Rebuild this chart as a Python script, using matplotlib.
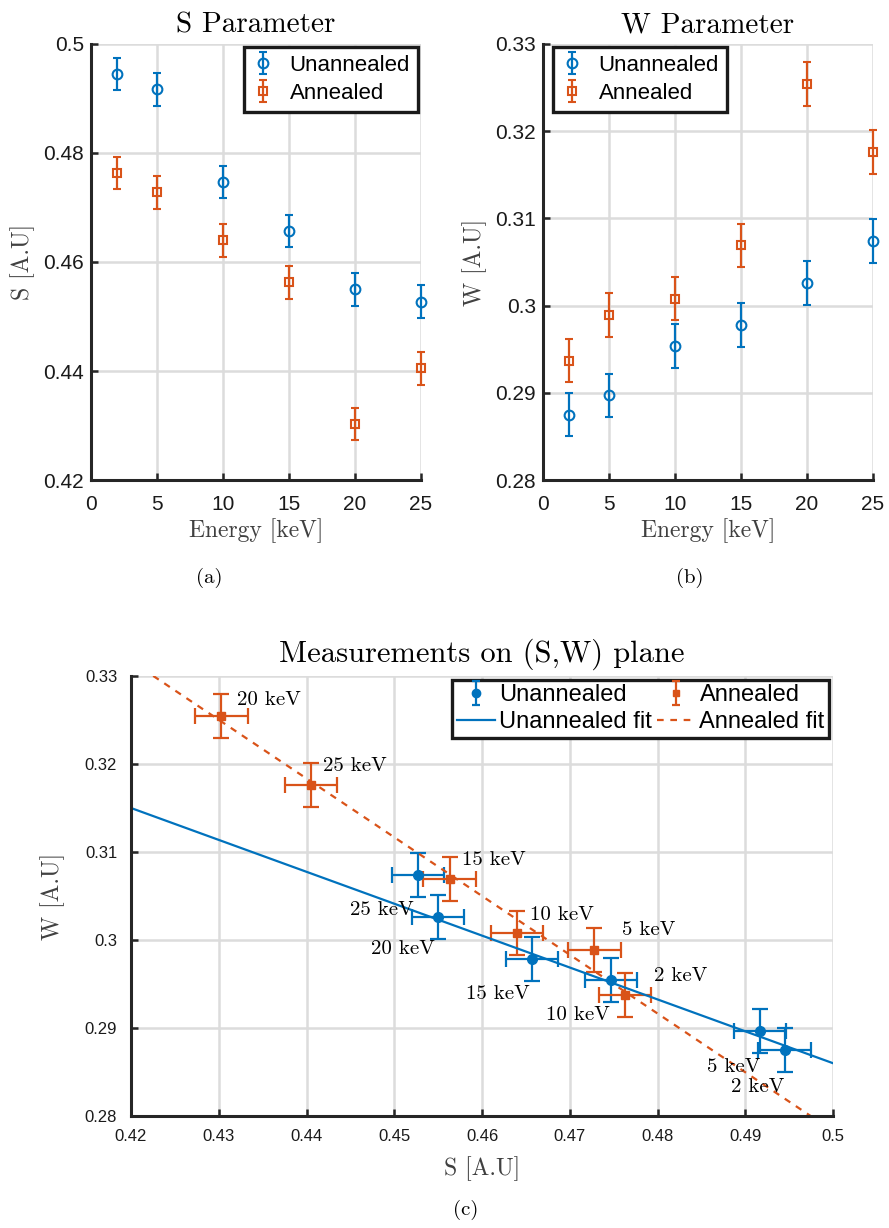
import matplotlib
matplotlib.use('Agg')
import matplotlib.pyplot as plt
import numpy as np
from matplotlib.ticker import FuncFormatter, FixedLocator

# ---------------- data ----------------
energy = [2, 5, 10, 15, 20, 25]
energy_labels = ['2 keV', '5 keV', '10 keV', '15 keV', '20 keV', '25 keV']
s_unannealed = [0.4945, 0.4917, 0.4747, 0.4657, 0.4550, 0.4527]
s_annealed = [0.4763, 0.4728, 0.4640, 0.4563, 0.4303, 0.4405]
w_unannealed = [0.2875, 0.2897, 0.2954, 0.2978, 0.3026, 0.3074]
w_annealed = [0.2937, 0.2989, 0.3008, 0.3069, 0.3254, 0.3176]
s_err = [0.003, 0.003, 0.003, 0.003, 0.003, 0.003]
w_err = [0.0025, 0.0025, 0.0025, 0.0025, 0.0025, 0.0025]
fit_s = [0.42, 0.50]
fit_w_unannealed = [0.3150, 0.2860]
fit_w_annealed = [0.3317, 0.2783]

s_ticks = [0.42, 0.44, 0.46, 0.48, 0.5]
w_ticks = [0.28, 0.29, 0.30, 0.31, 0.32, 0.33]
e_ticks = [0, 5, 10, 15, 20, 25]
sw_x_ticks = [0.42, 0.43, 0.44, 0.45, 0.46, 0.47, 0.48, 0.49, 0.5]

# ---------------- style ----------------
BLUE = '#0072BD'
ORANGE = '#D95319'
SPINE = '#262626'
GRID = '#dcdcdc'
SERIF = 'cmr10'
SANS = 'Liberation Sans'

plt.rcParams['font.family'] = [SANS, 'DejaVu Sans']
plt.rcParams['axes.formatter.use_mathtext'] = True

fig = plt.figure(figsize=(8.89, 12.28), dpi=100)

fmt = FuncFormatter(lambda v, p: f'{v:g}')


def style_axes(ax, tick_size, xpad, ypad):
    for side in ['top', 'right']:
        ax.spines[side].set_visible(False)
    for side in ['left', 'bottom']:
        ax.spines[side].set_color(SPINE)
        ax.spines[side].set_linewidth(2.2)
    ax.tick_params(direction='in', length=5, width=1.8, color=SPINE,
                   labelsize=tick_size, labelcolor='#1a1a1a')
    ax.tick_params(axis='x', pad=xpad)
    ax.tick_params(axis='y', pad=ypad)
    ax.grid(True, color=GRID, linewidth=1.8)
    ax.set_axisbelow(True)
    ax.xaxis.set_major_formatter(fmt)
    ax.yaxis.set_major_formatter(fmt)


def style_legend(leg):
    leg.get_frame().set_edgecolor('#1a1a1a')
    leg.get_frame().set_linewidth(2.4)
    leg.get_frame().set_alpha(1)


eb_kw = dict(elinewidth=1.6, capsize=3, capthick=1.6, clip_on=False)

# ---- (a) S parameter ----
ax1 = fig.add_axes([0.1024, 0.6091, 0.3712, 0.3551])
style_axes(ax1, 15, 11, 5)
ax1.errorbar(energy, s_unannealed, yerr=s_err, fmt='o', color=BLUE,
             mfc='none', ms=7, mew=1.5, label='Unannealed', **eb_kw)
ax1.errorbar(energy, s_annealed, yerr=s_err, fmt='s', color=ORANGE,
             mfc='none', ms=5.5, mew=1.5, label='Annealed', **eb_kw)
ax1.set_xlim(0, 25)
ax1.set_ylim(0.42, 0.5)
ax1.xaxis.set_major_locator(FixedLocator(e_ticks))
ax1.yaxis.set_major_locator(FixedLocator(s_ticks))
ax1.set_title('S Parameter', family=SERIF, fontsize=21, pad=8)
ax1.set_xlabel('Energy [keV]', family=SERIF, fontsize=17, color='#404040', labelpad=3)
ax1.set_ylabel('S [A.U]', family=SERIF, fontsize=17, color='#404040', labelpad=6)
leg1 = ax1.legend(loc='upper right', fontsize=16, frameon=True, fancybox=False,
                  borderaxespad=0.15, handlelength=1.0, handletextpad=0.7,
                  borderpad=0.35, labelspacing=0.3)
style_legend(leg1)

# ---- (b) W parameter ----
ax2 = fig.add_axes([0.6108, 0.6091, 0.3712, 0.3551])
style_axes(ax2, 15, 11, 5)
ax2.errorbar(energy, w_unannealed, yerr=w_err, fmt='o', color=BLUE,
             mfc='none', ms=7, mew=1.5, label='Unannealed', **eb_kw)
ax2.errorbar(energy, w_annealed, yerr=w_err, fmt='s', color=ORANGE,
             mfc='none', ms=5.5, mew=1.5, label='Annealed', **eb_kw)
ax2.set_xlim(0, 25)
ax2.set_ylim(0.28, 0.33)
ax2.xaxis.set_major_locator(FixedLocator(e_ticks))
ax2.yaxis.set_major_locator(FixedLocator(w_ticks))
ax2.set_title('W Parameter', family=SERIF, fontsize=21, pad=8)
ax2.set_xlabel('Energy [keV]', family=SERIF, fontsize=17, color='#404040', labelpad=3)
ax2.set_ylabel('W [A.U]', family=SERIF, fontsize=17, color='#404040', labelpad=6)
leg2 = ax2.legend(loc='upper left', fontsize=16, frameon=True, fancybox=False,
                  borderaxespad=0.15, bbox_to_anchor=(0.02, 1.0),
                  handlelength=1.0, handletextpad=0.7,
                  borderpad=0.35, labelspacing=0.3)
style_legend(leg2)

# ---- (c) S-W plane ----
ax3 = fig.add_axes([0.1474, 0.0912, 0.7896, 0.3583])
style_axes(ax3, 12, 9, 10)
ax3.errorbar(s_unannealed, w_unannealed, xerr=s_err, yerr=w_err, fmt='o',
             color=BLUE, ms=7, elinewidth=1.6, capsize=5.5, capthick=1.6)
ax3.errorbar(s_annealed, w_annealed, xerr=s_err, yerr=w_err, fmt='s',
             color=ORANGE, ms=5.5, elinewidth=1.6, capsize=5.5, capthick=1.6)
l_u, = ax3.plot(fit_s, fit_w_unannealed, '-', color=BLUE, lw=1.6)
l_a, = ax3.plot(fit_s, fit_w_annealed, '--', color=ORANGE, lw=1.6, dashes=(3, 3))
# legend proxies (vertical bar only, like the reference legend)
h_u = ax3.errorbar([np.nan], [np.nan], yerr=[np.nan], fmt='o', color=BLUE, ms=6,
                   elinewidth=1.6, capsize=3, capthick=1.6)
h_a = ax3.errorbar([np.nan], [np.nan], yerr=[np.nan], fmt='s', color=ORANGE, ms=5,
                   elinewidth=1.6, capsize=3, capthick=1.6)
ax3.set_xlim(0.42, 0.5)
ax3.set_ylim(0.28, 0.33)
ax3.xaxis.set_major_locator(FixedLocator(sw_x_ticks))
ax3.yaxis.set_major_locator(FixedLocator(w_ticks))
ax3.set_title('Measurements on (S,W) plane', family=SERIF, fontsize=22, pad=10)
ax3.set_xlabel('S [A.U]', family=SERIF, fontsize=17, color='#404040', labelpad=9)
ax3.set_ylabel('W [A.U]', family=SERIF, fontsize=17, color='#404040', labelpad=14)

ann_offsets = [(21, 14), (20, 14), (9, 13), (9, 14), (11, 12), (9, 14)]
for s, w, lab, off in zip(s_annealed, w_annealed, energy_labels, ann_offsets):
    ax3.annotate(lab, (s, w), xytext=off, textcoords='offset points',
                 family=SERIF, fontsize=15, ha='left', va='center', color='black')
unann_offsets = [(0, -27), (0, -26), (-1, -25), (-2, -25), (-2, -23), (-3, -25)]
for s, w, lab, off in zip(s_unannealed, w_unannealed, energy_labels, unann_offsets):
    ax3.annotate(lab, (s, w), xytext=off, textcoords='offset points',
                 family=SERIF, fontsize=15, ha='right', va='center', color='black')

leg3 = ax3.legend([h_u, l_u, h_a, l_a],
                  ['Unannealed', 'Unannealed fit', 'Annealed', 'Annealed fit'],
                  ncol=2, loc='upper right', fontsize=17, frameon=True, fancybox=False,
                  borderaxespad=0.15, handlelength=1.6, handletextpad=0.2,
                  borderpad=0.2, labelspacing=0.2, columnspacing=0.2)
style_legend(leg3)

# captions
fig.text(209 / 889, 1 - 578 / 1228, '(a)', family=SERIF, fontsize=15, ha='center', va='center')
fig.text(690 / 889, 1 - 578 / 1228, '(b)', family=SERIF, fontsize=15, ha='center', va='center')
fig.text(466 / 889, 1 - 1210 / 1228, '(c)', family=SERIF, fontsize=15, ha='center', va='center')

fig.savefig('out.png', dpi=100)
